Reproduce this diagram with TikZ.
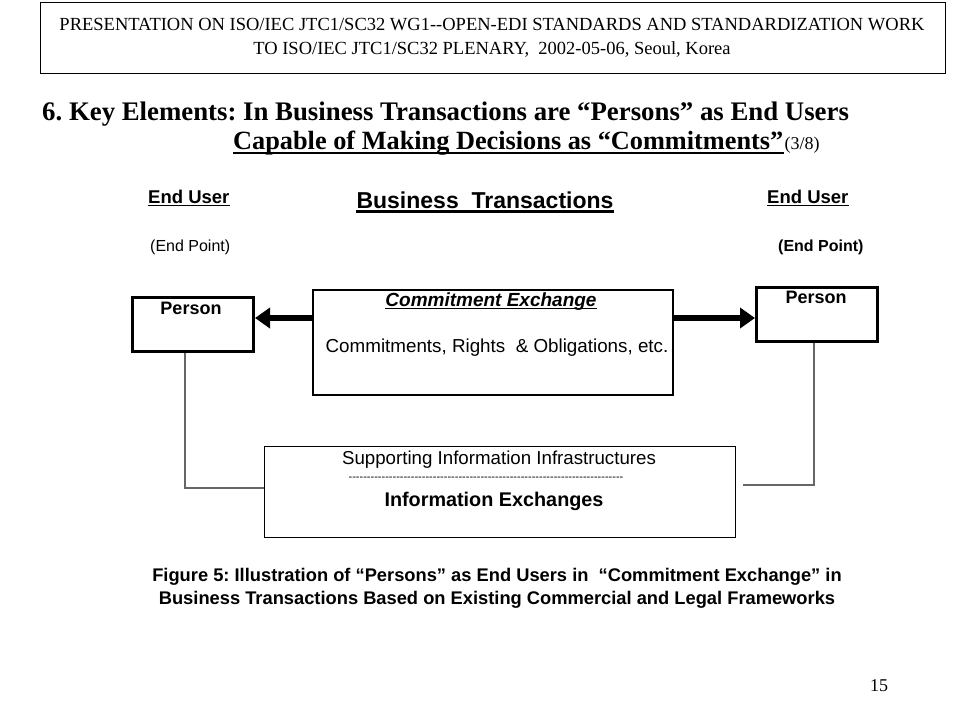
\documentclass[tikz,border=0pt]{standalone}
\usepackage{fontspec}
\setmainfont{Liberation Serif}
\setsansfont{Liberation Sans}
\usetikzlibrary{arrows.meta}
\begin{document}
\frenchspacing
\begin{tikzpicture}[x=1pt,y=-1pt,
  txt/.style={inner sep=0pt, font=\sffamily\fontsize{18}{20}\selectfont},
  btxt/.style={inner sep=0pt, font=\sffamily\bfseries\fontsize{18}{20}\selectfont},
  hdrtxt/.style={inner sep=0pt, font=\rmfamily\fontsize{18.5}{20}\selectfont},
  ttl/.style={inner sep=0pt, font=\rmfamily\bfseries\fontsize{26.8}{30}\selectfont},
  personbox/.style={draw, line width=3pt, minimum width=121pt, minimum height=54pt, anchor=north west, inner sep=0pt},
  ulinethin/.style={line width=1.4pt},
  bigarrow/.style={line width=6pt, -{Triangle[length=15pt,width=20pt]}},
  conn/.style={draw=black!60, line width=1.2pt}]
\useasboundingbox (0,0) rectangle (960,720);
\fill[white] (0,0) rectangle (960,720);

% header
\node[draw, line width=1.2pt, minimum width=905pt, minimum height=71pt, anchor=north west, inner sep=0pt] (hdr) at (40,2) {};
\node[hdrtxt] (h1) at (492,25) {PRESENTATION ON ISO/IEC JTC1/SC32 WG1-\kern0pt-OPEN-EDI STANDARDS AND STANDARDIZATION WORK};
\node[hdrtxt] (h2) at (492,50) {TO ISO/IEC JTC1/SC32 PLENARY,\ \ 2002-05-06, Seoul, Korea};

% title
\node[ttl, anchor=base west] (t1) at (42,120) {6. Key Elements: In Business Transactions are “Persons” as End Users};
\node[ttl, anchor=base west, font=\rmfamily\bfseries\fontsize{26.3}{30}\selectfont] (t2) at (233,149) {Capable of Making Decisions as “Commitments”};
\draw[line width=2.5pt] ([yshift=-4pt]t2.base west) -- ([yshift=-4pt]t2.base east);
\node[inner sep=0pt, font=\rmfamily\fontsize{18}{20}\selectfont, anchor=base west] (t3) at ([xshift=1pt]t2.base east) {(3/8)};

% labels
\node[btxt, anchor=base west, font=\sffamily\bfseries\fontsize{18.5}{20}\selectfont] (eu1) at (148,203) {End User};
\draw[ulinethin] ([yshift=-2.5pt]eu1.base west) -- ([yshift=-2.5pt]eu1.base east);
\node[btxt, anchor=base west, font=\sffamily\bfseries\fontsize{18.5}{20}\selectfont] (eu2) at (767,203) {End User};
\draw[ulinethin] ([yshift=-2.5pt]eu2.base west) -- ([yshift=-2.5pt]eu2.base east);
\node[btxt, anchor=base, font=\sffamily\bfseries\fontsize{23}{26}\selectfont] (bt) at (485,208) {Business\ \ Transactions};
\draw[line width=2.2pt] ([yshift=-3.5pt]bt.base west) -- ([yshift=-3.5pt]bt.base east);
\node[txt, anchor=base west, font=\sffamily\fontsize{16}{18}\selectfont] (ep1) at (150,251) {(End Point)};
\node[btxt, anchor=base west, font=\sffamily\bfseries\fontsize{16}{18}\selectfont] (ep2) at (778,251) {(End Point)};

% boxes
\node[personbox] (lp) at (131,296) {};
\node[btxt] (lpt) at (191,308) {Person};
\node[personbox] (rp) at (755,286) {};
\node[btxt] (rpt) at (816,297) {Person};

\node[draw, line width=2pt, minimum width=360pt, minimum height=105pt, anchor=north west, inner sep=0pt] (ce) at (312,289) {};
\node[btxt, font=\sffamily\bfseries\itshape\fontsize{19}{20}\selectfont, anchor=base] (cet) at (491,306) {Commitment Exchange};
\draw[line width=1.1pt] ([yshift=-2.5pt]cet.base west) -- ([yshift=-2.5pt]cet.base east);
\node[txt, anchor=base, font=\sffamily\fontsize{18.8}{20}\selectfont] (cro) at (497,352) {Commitments, Rights\ \ \& Obligations, etc.};

\node[draw, line width=1pt, minimum width=471pt, minimum height=91pt, anchor=north west, inner sep=0pt] (bb) at (264,446) {};
\node[txt, font=\sffamily\fontsize{18.7}{20}\selectfont, anchor=base] (sii) at (499,464) {Supporting Information Infrastructures};
\node[txt, font=\sffamily\fontsize{11}{12}\selectfont] (dsh) at (486,479) {\foreach \i in {1,...,75}{-\kern0pt}};
\node[btxt, anchor=base, font=\sffamily\bfseries\fontsize{19.8}{20}\selectfont] (ie) at (494,506) {Information Exchanges};

% arrows
\draw[bigarrow] ([yshift=-29pt]ce.north west) coordinate (la) -- (la -| lp.east);
\draw[bigarrow] ([yshift=-29pt]ce.north east) coordinate (ra) -- (ra -| rp.west);

% connectors
\coordinate (rend) at (743,485);
\draw[conn] ([xshift=-8pt]lp.south) |- ([yshift=4pt]bb.west);
\draw[conn] ([xshift=-3pt]rp.south) |- (rend);

% caption
\node[inner sep=0pt, align=center, font=\sffamily\bfseries\fontsize{18.3}{23}\selectfont] (cap) at (497,588) {Figure 5: Illustration of “Persons” as End Users in\ \ “Commitment Exchange” in\\Business Transactions Based on Existing Commercial and Legal Frameworks};

\node[inner sep=0pt, font=\rmfamily\fontsize{18}{20}\selectfont] (pg) at (879,686) {15};
\end{tikzpicture}
\end{document}
